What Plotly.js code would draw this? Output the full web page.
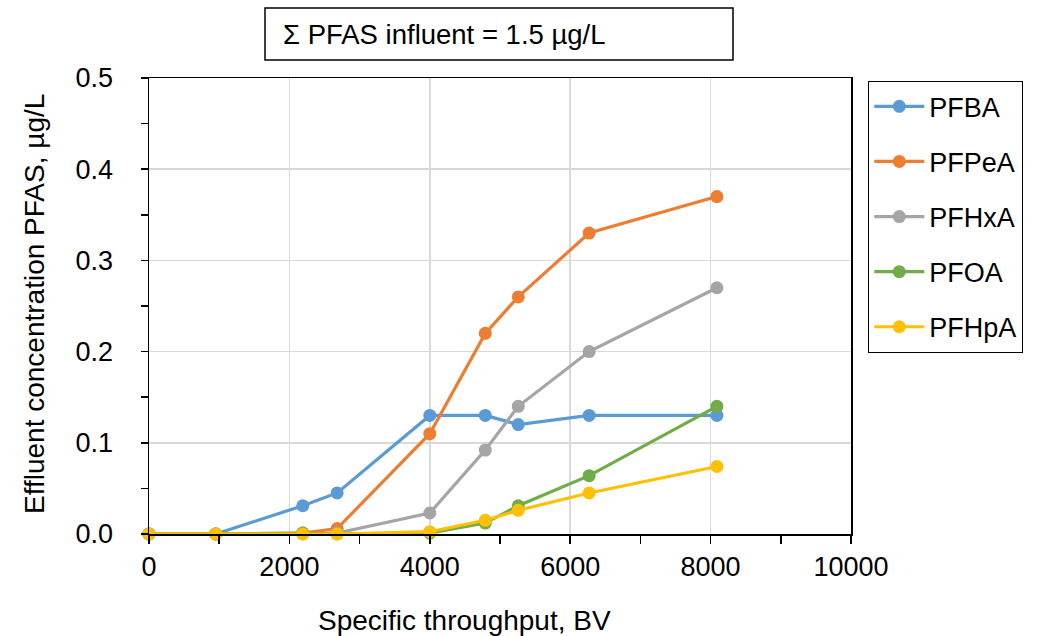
<!DOCTYPE html>
<html>
<head>
<meta charset="utf-8">
<script src="https://cdn.plot.ly/plotly-3.0.1.min.js"></script>
<style>html,body{margin:0;padding:0;background:#fff;}#chart{width:1040px;height:636px;}</style>
</head>
<body>
<div id="chart"></div>
<script>
const throughputBV = [0, 950, 2190, 2680, 4000, 4790, 5260, 6270, 8090];
const seriesNames = ["PFBA", "PFPeA", "PFHxA", "PFOA", "PFHpA"];
const pfba  = [0, 0, 0.031, 0.045, 0.130, 0.130, 0.120, 0.130, 0.130];
const pfpea = [0, 0, 0.001, 0.006, 0.110, 0.220, 0.260, 0.330, 0.370];
const pfhxa = [0, 0, 0.000, 0.001, 0.023, 0.092, 0.140, 0.200, 0.270];
const pfoa  = [0, 0, 0.001, 0.000, 0.001, 0.012, 0.031, 0.064, 0.140];
const pfhpa = [0, 0, 0.000, 0.000, 0.0025, 0.015, 0.026, 0.045, 0.074];
const seriesValues = [pfba, pfpea, pfhxa, pfoa, pfhpa];
const seriesColors = ["#5B9BD5", "#ED7D31", "#A5A5A5", "#70AD47", "#FFC000"];
const titleText = "Σ PFAS influent = 1.5 µg/L";
const xTitle = "Specific throughput, BV";
const yTitle = "Effluent concentration PFAS, µg/L";

const FONT = "Arial, 'Liberation Sans', sans-serif";

const traces = seriesNames.map((n, i) => ({
  type: "scatter",
  mode: "lines+markers",
  name: n,
  legendgroup: n,
  x: throughputBV,
  y: seriesValues[i],
  line: {color: seriesColors[i], width: 3.2},
  marker: {color: seriesColors[i], size: 13},
  cliponaxis: false
}));

const W = 1040, H = 636;
const L = 149, R = W - 851, T = 78, B = H - 534;
const pw = W - L - R, ph = H - T - B;
const px = v => (v - L) / pw;
const py = v => (H - B - v) / ph;

const layout = {
  width: W, height: H,
  margin: {l: L, r: R, t: T, b: B, pad: 0},
  paper_bgcolor: "#fff",
  plot_bgcolor: "#fff",
  font: {family: FONT, size: 27, color: "#000"},
  showlegend: true,
  legend: {
    x: px(868), y: py(81), xanchor: "left", yanchor: "top",
    bordercolor: "#000", borderwidth: 1.3, bgcolor: "#fff",
    font: {family: FONT, size: 27, color: "#000"},
    tracegroupgap: 17, traceorder: "grouped",
    itemwidth: 50
  },
  xaxis: {
    range: [0, 10000], dtick: 2000, tick0: 0, tickformat: "d",
    showgrid: true, gridcolor: "#D9D9D9", gridwidth: 1.5,
    showline: true, linecolor: "#000", linewidth: 1.5, mirror: true,
    ticks: "outside", ticklen: 8, tickwidth: 1.5, tickcolor: "#000",
    minor: {dtick: 1000, ticks: "outside", ticklen: 8, tickwidth: 1.5, tickcolor: "#000", showgrid: false},
    zeroline: false,
    ticklabelstandoff: 0,
    tickfont: {family: FONT, size: 27, color: "#000"},
    automargin: false, fixedrange: true
  },
  yaxis: {
    range: [0, 0.5], dtick: 0.1, tick0: 0, tickformat: ".1f",
    showgrid: true, gridcolor: "#D9D9D9", gridwidth: 1.5,
    showline: true, linecolor: "#000", linewidth: 1.5, mirror: true,
    ticks: "outside", ticklen: 7, tickwidth: 1.5, tickcolor: "#000",
    minor: {dtick: 0.05, ticks: "outside", ticklen: 7, tickwidth: 1.5, tickcolor: "#000", showgrid: false},
    zeroline: false,
    ticklabelstandoff: 22,
    tickfont: {family: FONT, size: 27, color: "#000"},
    automargin: false, fixedrange: true
  },
  shapes: [{
    type: "rect", xref: "paper", yref: "paper",
    x0: px(265), x1: px(733), y0: py(60), y1: py(8),
    line: {color: "#000", width: 1.5}, fillcolor: "#fff", layer: "above"
  }],
  annotations: [
    {
      xref: "paper", yref: "paper", x: px(281), y: py(35),
      xanchor: "left", yanchor: "middle", showarrow: false,
      text: titleText, font: {family: FONT, size: 27.5, color: "#000"}
    },
    {
      xref: "paper", yref: "paper", x: px(464.5), y: py(620),
      xanchor: "center", yanchor: "middle", showarrow: false,
      text: xTitle, font: {family: FONT, size: 28, color: "#000"}
    },
    {
      xref: "paper", yref: "paper", x: px(34), y: py(304),
      xanchor: "center", yanchor: "middle", showarrow: false, textangle: -90,
      text: yTitle, font: {family: FONT, size: 28, color: "#000"}
    }
  ]
};

Plotly.newPlot("chart", traces, layout, {displayModeBar: false, staticPlot: true});
</script>
</body>
</html>
